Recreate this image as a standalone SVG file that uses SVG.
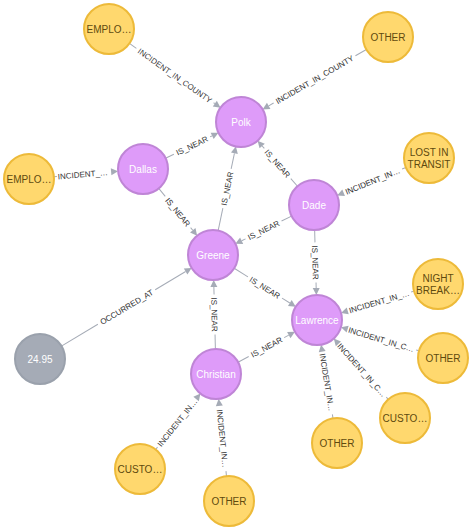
<svg xmlns="http://www.w3.org/2000/svg" width="473" height="530" viewBox="0 0 473 530">
<style>
.bg{fill:#fff}
.ny circle{fill:#FFD86E;stroke:#EDBA39;stroke-width:2}
.np circle{fill:#DE9BF9;stroke:#BF85D6;stroke-width:2}
.ng circle{fill:#A5ABB6;stroke:#9AA1AC;stroke-width:2}
.node text{font-family:"Liberation Sans",Arial,sans-serif;font-size:10px;text-anchor:middle}
.ny text{fill:#604A0E}
.np text,.ng text{fill:#fff}
.edges line{stroke:#A5ABB6;stroke-width:1}
.edges polygon{fill:#A5ABB6}
.edges text{font-family:"Liberation Sans",Arial,sans-serif;font-size:8px;fill:#333;text-anchor:middle}
</style>
<rect class="bg" x="0" y="0" width="473" height="530"/>
<g id="connectors" class="edges">
<g transform="translate(109,29) rotate(35.2)"><line x1="25" y1="0" x2="33.5" y2="0"/><line x1="128" y1="0" x2="129.5" y2="0"/><polygon points="136.5,0 129.5,-3.5 129.5,3.5"/><text x="80.75" y="3">INCIDENT_IN_COUNTY</text></g>
<g transform="translate(388,37) rotate(150)"><line x1="25" y1="0" x2="37.6" y2="0"/><line x1="132.1" y1="0" x2="137.8" y2="0"/><polygon points="144.8,0 137.8,-3.5 137.8,3.5"/><text transform="translate(84.9,0) rotate(180)" y="3">INCIDENT_IN_COUNTY</text></g>
<g transform="translate(143,169) rotate(-25.6)"><line x1="25" y1="0" x2="34.2" y2="0"/><line x1="74.5" y1="0" x2="76.7" y2="0"/><polygon points="83.7,0 76.7,-3.5 76.7,3.5"/><text x="54.35" y="3">IS_NEAR</text></g>
<g transform="translate(29,179) rotate(-5)"><line x1="25" y1="0" x2="28" y2="0"/><polygon points="89.4,0 82.4,-3.5 82.4,3.5"/><text x="54" y="3">INCIDENT_…</text></g>
<g transform="translate(143,169) rotate(50.9)"><line x1="25" y1="0" x2="35.3" y2="0"/><line x1="75.5" y1="0" x2="78.9" y2="0"/><polygon points="85.9,0 78.9,-3.5 78.9,3.5"/><text x="55.45" y="3">IS_NEAR</text></g>
<g transform="translate(213,255) rotate(-78.1)"><line x1="25" y1="0" x2="47.8" y2="0"/><line x1="88" y1="0" x2="103.9" y2="0"/><polygon points="110.9,0 103.9,-3.5 103.9,3.5"/><text x="67.95" y="3">IS_NEAR</text></g>
<g transform="translate(314,205) rotate(-131.3)"><line x1="25" y1="0" x2="35.1" y2="0"/><line x1="75.3" y1="0" x2="78.5" y2="0"/><polygon points="85.5,0 78.5,-3.5 78.5,3.5"/><text transform="translate(55.25,0) rotate(180)" y="3">IS_NEAR</text></g>
<g transform="translate(429,158) rotate(157.8)"><line x1="25" y1="0" x2="29" y2="0"/><polygon points="99.2,0 92.2,-3.5 92.2,3.5"/><text transform="translate(61,0) rotate(180)" y="3">INCIDENT_IN…</text></g>
<g transform="translate(314,205) rotate(153.7)"><line x1="25" y1="0" x2="36.2" y2="0"/><line x1="76.4" y1="0" x2="80.7" y2="0"/><polygon points="87.7,0 80.7,-3.5 80.7,3.5"/><text transform="translate(56.35,0) rotate(180)" y="3">IS_NEAR</text></g>
<g transform="translate(314,205) rotate(88.5)"><line x1="25" y1="0" x2="37.4" y2="0"/><line x1="77.6" y1="0" x2="83" y2="0"/><polygon points="90,0 83,-3.5 83,3.5"/><text x="57.5" y="3">IS_NEAR</text></g>
<g transform="translate(213,255) rotate(32)"><line x1="25" y1="0" x2="41.2" y2="0"/><line x1="81.4" y1="0" x2="90.6" y2="0"/><polygon points="97.6,0 90.6,-3.5 90.6,3.5"/><text x="61.3" y="3">IS_NEAR</text></g>
<g transform="translate(40,359) rotate(-31)"><line x1="25" y1="0" x2="67.5" y2="0"/><line x1="134.4" y1="0" x2="169.9" y2="0"/><polygon points="176.9,0 169.9,-3.5 169.9,3.5"/><text x="100.95" y="3">OCCURRED_AT</text></g>
<g transform="translate(216,374) rotate(-91.4)"><line x1="25" y1="0" x2="39.4" y2="0"/><line x1="79.6" y1="0" x2="87" y2="0"/><polygon points="94,0 87,-3.5 87,3.5"/><text transform="translate(59.5,0) rotate(180)" y="3">IS_NEAR</text></g>
<g transform="translate(216,374) rotate(-28.1)"><line x1="25" y1="0" x2="37.1" y2="0"/><line x1="77.3" y1="0" x2="82.5" y2="0"/><polygon points="89.5,0 82.5,-3.5 82.5,3.5"/><text x="57.25" y="3">IS_NEAR</text></g>
<g transform="translate(438,284) rotate(163.4)"><line x1="25" y1="0" x2="28" y2="0"/><polygon points="101.2,0 94.2,-3.5 94.2,3.5"/><text transform="translate(61.5,0) rotate(180)" y="3">INCIDENT_IN_…</text></g>
<g transform="translate(443,358) rotate(-163.2)"><line x1="25" y1="0" x2="28" y2="0"/><polygon points="106.6,0 99.6,-3.5 99.6,3.5"/><text transform="translate(64.5,0) rotate(180)" y="3">INCIDENT_IN_C…</text></g>
<g transform="translate(405,418) rotate(-131.9)"><line x1="25" y1="0" x2="28" y2="0"/><polygon points="106.7,0 99.7,-3.5 99.7,3.5"/><text transform="translate(64.5,0) rotate(180)" y="3">INCIDENT_IN_C…</text></g>
<g transform="translate(337,443) rotate(-99.2)"><line x1="25" y1="0" x2="29" y2="0"/><polygon points="99.6,0 92.6,-3.5 92.6,3.5"/><text transform="translate(61.5,0) rotate(180)" y="3">INCIDENT_IN…</text></g>
<g transform="translate(140,469) rotate(-51.3)"><line x1="25" y1="0" x2="28" y2="0"/><polygon points="96.7,0 89.7,-3.5 89.7,3.5"/><text x="59.5" y="3">INCIDENT_IN…</text></g>
<g transform="translate(229,501) rotate(-95.8)"><line x1="25" y1="0" x2="30" y2="0"/><polygon points="102.7,0 95.7,-3.5 95.7,3.5"/><text transform="translate(63,0) rotate(180)" y="3">INCIDENT_IN…</text></g>
</g>
<g id="n-emplo-top" class="node ny"><circle cx="109" cy="29" r="25"/><text x="109" y="32.5">EMPLO…</text></g>
<g id="n-other-top" class="node ny"><circle cx="388" cy="37" r="25"/><text x="388" y="40.5">OTHER</text></g>
<g id="n-polk" class="node np"><circle cx="241" cy="122" r="25"/><text x="241" y="125.5">Polk</text></g>
<g id="n-dallas" class="node np"><circle cx="143" cy="169" r="25"/><text x="143" y="172.5">Dallas</text></g>
<g id="n-emplo-left" class="node ny"><circle cx="29" cy="179" r="25"/><text x="29" y="182.5">EMPLO…</text></g>
<g id="n-lost" class="node ny"><circle cx="429" cy="158" r="25"/><text x="429" y="156">LOST IN</text><text x="429" y="167.5">TRANSIT</text></g>
<g id="n-dade" class="node np"><circle cx="314" cy="205" r="25"/><text x="314" y="208.5">Dade</text></g>
<g id="n-greene" class="node np"><circle cx="213" cy="255" r="25"/><text x="213" y="258.5">Greene</text></g>
<g id="n-night" class="node ny"><circle cx="438" cy="284" r="25"/><text x="438" y="282">NIGHT</text><text x="438" y="293.5">BREAK…</text></g>
<g id="n-lawrence" class="node np"><circle cx="317" cy="320" r="25"/><text x="317" y="323.5">Lawrence</text></g>
<g id="n-other-right" class="node ny"><circle cx="443" cy="358" r="25"/><text x="443" y="361.5">OTHER</text></g>
<g id="n-custo-right" class="node ny"><circle cx="405" cy="418" r="25"/><text x="405" y="421.5">CUSTO…</text></g>
<g id="n-other-mid" class="node ny"><circle cx="337" cy="443" r="25"/><text x="337" y="446.5">OTHER</text></g>
<g id="n-value" class="node ng"><circle cx="40" cy="359" r="25"/><text x="40" y="362.5">24.95</text></g>
<g id="n-christian" class="node np"><circle cx="216" cy="374" r="25"/><text x="216" y="377.5">Christian</text></g>
<g id="n-custo-bl" class="node ny"><circle cx="140" cy="469" r="25"/><text x="140" y="472.5">CUSTO…</text></g>
<g id="n-other-bottom" class="node ny"><circle cx="229" cy="501" r="25"/><text x="229" y="504.5">OTHER</text></g>
</svg>
